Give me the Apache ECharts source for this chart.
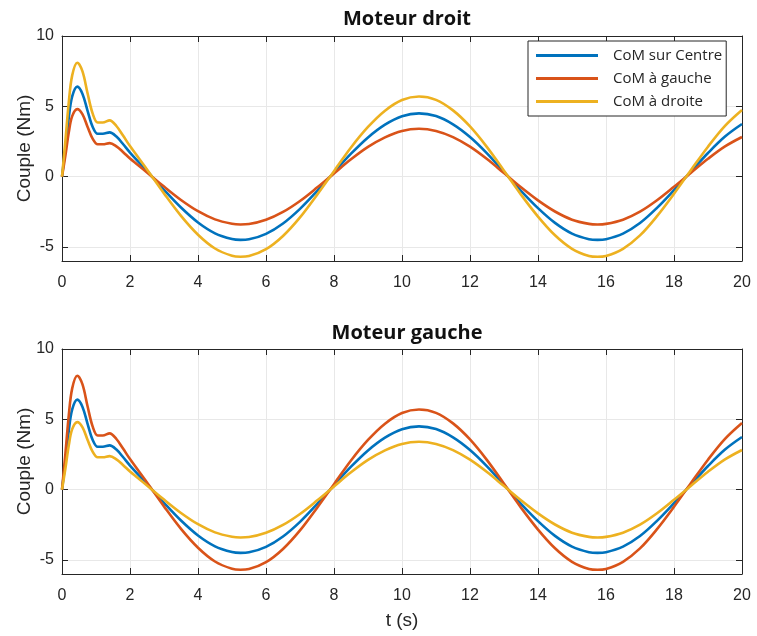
<!DOCTYPE html>
<html>
<head>
<meta charset="utf-8">
<script src="https://cdn.jsdelivr.net/npm/echarts@6/dist/echarts.min.js"></script>
<style>
  html, body { margin: 0; padding: 0; background: #fff; }
  #chart { width: 757px; height: 636px; }
</style>
</head>
<body>
<div id="chart"></div>
<script>
// time samples (s), denser during the start-up transient
const temps = [0, 0.1, 0.2, 0.3, 0.45, 0.6, 0.75, 0.9, 1.05, 1.2, 1.4, 1.6, 1.8, 2.0,
  2.5, 3, 3.5, 4, 4.5, 5, 5.25, 5.5, 6, 6.5, 7, 7.5, 8, 8.5, 9, 9.5, 10,
  10.5, 11, 11.5, 12, 12.5, 13, 13.5, 14, 14.5, 15, 15.5, 15.75, 16, 16.5, 17, 17.5, 18, 18.5, 19, 19.5, 20];

// torque (Nm)
const coupleCentre = [0, 2.0, 4.2, 5.7, 6.4, 5.9, 4.7, 3.55, 3.05, 3.05, 3.15, 2.85, 2.3, 1.71,
  0.40, -0.94, -2.20, -3.26, -4.03, -4.44, -4.5, -4.46, -4.07, -3.33, -2.29, -1.03, 0.31, 1.63, 2.79, 3.70, 4.30,
  4.50, 4.31, 3.72, 2.82, 1.66, 0.33, -1.01, -2.24, -3.29, -4.05, -4.45, -4.5, -4.45, -4.05, -3.30, -2.22, -0.96, 0.37, 1.68, 2.85, 3.74];
const coupleFaible = [0, 1.5, 3.15, 4.3, 4.8, 4.45, 3.55, 2.7, 2.3, 2.3, 2.38, 2.15, 1.74, 1.29,
  0.30, -0.71, -1.66, -2.46, -3.04, -3.35, -3.4, -3.37, -3.07, -2.51, -1.73, -0.78, 0.23, 1.23, 2.11, 2.79, 3.25,
  3.40, 3.25, 2.81, 2.13, 1.25, 0.25, -0.76, -1.69, -2.48, -3.06, -3.36, -3.4, -3.36, -3.06, -2.49, -1.68, -0.72, 0.28, 1.27, 2.15, 2.82];
const coupleFort = [0, 2.55, 5.3, 7.2, 8.1, 7.5, 5.95, 4.5, 3.85, 3.85, 4.0, 3.6, 2.9, 2.17,
  0.51, -1.19, -2.79, -4.13, -5.11, -5.63, -5.7, -5.65, -5.16, -4.22, -2.90, -1.30, 0.39, 2.07, 3.53, 4.69, 5.45,
  5.70, 5.46, 4.71, 3.57, 2.10, 0.42, -1.28, -2.84, -4.17, -5.13, -5.64, -5.7, -5.64, -5.13, -4.18, -2.81, -1.22, 0.47, 2.13, 3.61, 4.74];

const ticksY = [-5, 0, 5, 10];

const noms = ["CoM sur Centre", "CoM à gauche", "CoM à droite"];
const titres = ["Moteur droit", "Moteur gauche"];
// right motor: left CoM -> small torque, right CoM -> large; left motor is the reverse
const courbes = [
  [coupleCentre, coupleFaible, coupleFort],
  [coupleCentre, coupleFort, coupleFaible]
];

const couleurs = ["#0072BD", "#D95319", "#EDB120"];
const txt = "#262626";
const police = "Liberation Sans";

let chartDom = document.getElementById("chart");
let chart = echarts.init(chartDom);

const grids = [
  { left: 62, width: 680, top: 36, height: 225, outerBoundsMode: "none" },
  { left: 62, width: 680, top: 349, height: 225, outerBoundsMode: "none" }
];

const ligneAxe = { show: true, onZero: false, lineStyle: { color: txt, width: 1 } };

let xAxes = [], yAxes = [], series = [];
grids.forEach((g, i) => {
  let axeX = {
    type: "value", gridIndex: i, min: 0, max: 20, interval: 2,
    axisLine: ligneAxe,
    axisTick: { inside: true, length: 6, lineStyle: { color: txt } },
    splitLine: { show: true, lineStyle: { color: "#e8e8e8" } },
    axisLabel: { color: txt, fontFamily: police, fontSize: 16, margin: 14 }
  };
  if (i === 1) {
    axeX.name = "t (s)";
    axeX.nameLocation = "middle";
    axeX.nameMoveOverlap = false;
    axeX.nameGap = 37;
    axeX.nameTextStyle = { color: txt, fontFamily: police, fontSize: 19 };
  }
  xAxes.push(axeX);
  xAxes.push({
    type: "value", gridIndex: i, position: "top", min: 0, max: 20, interval: 2,
    axisLine: ligneAxe,
    axisTick: { inside: true, length: 6, lineStyle: { color: txt } },
    splitLine: { show: false }, axisLabel: { show: false }
  });
  yAxes.push({
    type: "value", gridIndex: i, min: -6, max: 10,
    name: "Couple (Nm)", nameLocation: "middle", nameGap: 28, nameMoveOverlap: false,
    nameTextStyle: { color: txt, fontFamily: police, fontSize: 19 },
    axisLine: ligneAxe,
    axisTick: { inside: true, length: 6, customValues: ticksY, lineStyle: { color: txt } },
    splitLine: { show: true, lineStyle: { color: "#e8e8e8" } },
    axisLabel: { color: txt, fontFamily: police, fontSize: 16, margin: 8, customValues: ticksY }
  });
  yAxes.push({
    type: "value", gridIndex: i, position: "right", min: -6, max: 10,
    axisLine: ligneAxe,
    axisTick: { inside: true, length: 6, customValues: ticksY, lineStyle: { color: txt } },
    splitLine: { show: false }, axisLabel: { show: false }
  });

  courbes[i].forEach((valeurs, k) => {
    series.push({
      name: noms[k], type: "line", xAxisIndex: i * 2, yAxisIndex: i * 2,
      data: temps.map((t, j) => [t, valeurs[j]]),
      smooth: 0.35, showSymbol: false, symbol: "none",
      lineStyle: { color: couleurs[k], width: 2.6 },
      itemStyle: { color: couleurs[k] },
      z: 3 + k
    });
  });
});

let option = {
  animation: false,
  backgroundColor: "#fff",
  title: titres.map((t, i) => ({
    text: t, left: 402, textAlign: "center", top: i === 0 ? 4 : 318,
    textStyle: { fontFamily: "Open Sans", fontWeight: "bold", fontSize: 20, color: "#111" }
  })),
  legend: {
    data: noms, orient: "vertical", left: 528, top: 41,
    backgroundColor: "#fff", borderColor: "#262626", borderWidth: 1, borderRadius: 0,
    padding: [5, 4, 5, 8], itemGap: 4,
    icon: "rect", itemWidth: 62, itemHeight: 3,
    textStyle: { fontFamily: "Open Sans", fontSize: 15, color: txt, padding: [0, 0, 0, 10], lineHeight: 19 }
  },
  grid: grids,
  xAxis: xAxes,
  yAxis: yAxes,
  series: series
};

chart.setOption(option);
</script>
</body>
</html>
